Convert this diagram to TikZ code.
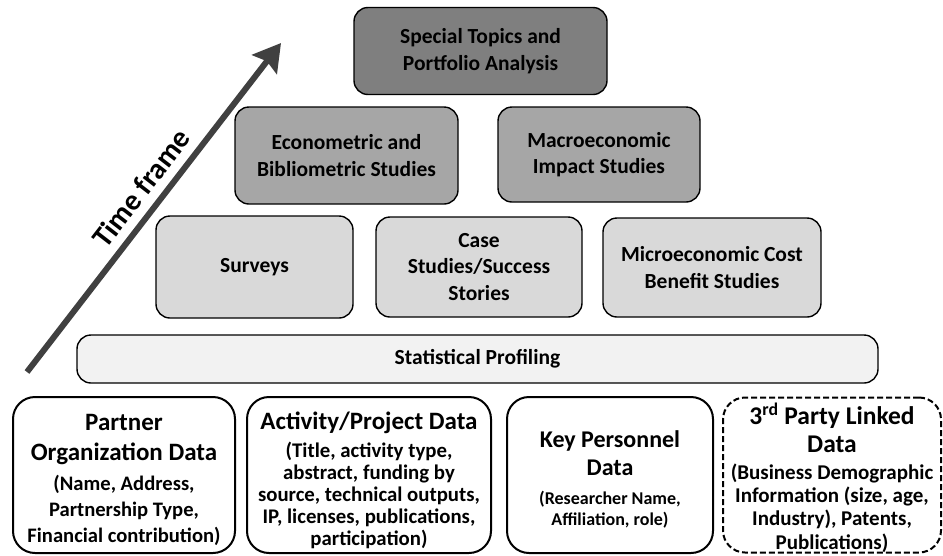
\documentclass[tikz,border=0pt]{standalone}
\usepackage{fontspec}
\setmainfont{Carlito}
\usetikzlibrary{arrows.meta}

\definecolor{tierTop}{HTML}{7F7F7F}
\definecolor{tierMid}{HTML}{A6A6A6}
\definecolor{tierLow}{HTML}{D9D9D9}
\definecolor{tierBase}{HTML}{F2F2F2}
\definecolor{arrowGray}{HTML}{404040}

\begin{document}
\begin{tikzpicture}[x=1pt,y=-1pt,
  tier/.style={draw=black, line width=1.4pt, rounded corners=14pt,
    align=center, inner sep=0pt,
    font=\bfseries\fontsize{21.5}{26.5}\selectfont},
  databox/.style={draw=black, line width=2pt, rounded corners=22pt,
    inner sep=0pt},
  datatext/.style={align=center, inner sep=0pt, font=\bfseries},
  timearrow/.style={draw=arrowGray, line width=6pt,
    -{Stealth[length=27pt,width=31pt,inset=4pt]}},
]
\useasboundingbox (0,0) rectangle (943,555);

% time axis
\coordinate (tstart) at (27,372);
\coordinate (tend) at (281,43);
\draw[timearrow] (tstart) -- (tend);
\node[rotate=52.3, font=\bfseries\fontsize{29.5}{34}\selectfont] (tlabel)
  at (141,188) {Time frame};

% analysis tiers
\node[tier, fill=tierTop, minimum width=253pt, minimum height=87pt]
  (special) at (480.5,51) {Special Topics and\\Portfolio Analysis};

\node[tier, fill=tierMid, minimum width=223pt, minimum height=97pt]
  (econ) at (346.5,155.5) {Econometric and\\Bibliometric Studies};
\node[tier, fill=tierMid, minimum width=202pt, minimum height=95pt]
  (macro) at (599,154.5) {Macroeconomic\\Impact Studies};

\node[tier, fill=tierLow, minimum width=197pt, minimum height=102pt]
  (surveys) at (254.5,267) {Surveys};
\node[tier, fill=tierLow, minimum width=206pt, minimum height=100pt]
  (cases) at (479,267) {Case\\Studies/Success\\Stories};
\node[tier, fill=tierLow, minimum width=218pt, minimum height=99pt]
  (micro) at (712,267.5) {Microeconomic Cost\\Benefit Studies};

\node[tier, fill=tierBase, minimum width=801pt, minimum height=48pt]
  (profiling) at (477.5,359) {Statistical Profiling};

% data sources: frames
\node[databox, minimum width=222pt, minimum height=156pt] (partner) at (124,475) {};
\node[databox, minimum width=244pt, minimum height=156pt] (activity) at (369,475) {};
\node[databox, minimum width=206pt, minimum height=156pt] (personnel) at (610,475) {};
\node[databox, dashed, dash pattern=on 6pt off 3pt, minimum width=218pt,
  minimum height=155pt] (thirdparty) at (832,475) {};

% data sources: contents
\node[datatext, font=\bfseries\fontsize{20.6}{26}\selectfont]
  (partnertext) at ([yshift=-5pt]partner.center)
  {{\fontsize{25}{28}\selectfont Partner}\\[4pt]
   {\fontsize{25}{28}\selectfont Organization Data}\\[4pt]
   (Name, Address,\\Partnership Type,\\Financial contribution)};

\node[datatext, font=\bfseries\fontsize{20.8}{22}\selectfont]
  (activitytext) at ([yshift=-5pt]activity.center)
  {{\fontsize{25}{28}\selectfont Activity/Project Data}\\[6pt]
   (Title, activity type,\\abstract, funding by\\source, technical outputs,\\
   IP, licenses, publications,\\participation)};

\node[datatext, font=\bfseries\fontsize{18}{21}\selectfont]
  (personneltext) at ([yshift=-4pt]personnel.center)
  {{\fontsize{24}{28}\selectfont Key Personnel}\\[7pt]
   {\fontsize{24}{28}\selectfont Data}\\[8pt]
   (Researcher Name,\\Affiliation, role)};

\node[datatext, font=\bfseries\fontsize{21}{23.3}\selectfont]
  (thirdpartytext) at ([yshift=-2.5pt]thirdparty.center)
  {{\fontsize{25.5}{28}\selectfont 3\textsuperscript{rd} Party Linked}\\[4.7pt]
   {\fontsize{25.5}{28}\selectfont Data}\\[3.7pt]
   (Business Demographic\\Information (size, age,\\Industry), Patents,\\Publications)};
\end{tikzpicture}
\end{document}
